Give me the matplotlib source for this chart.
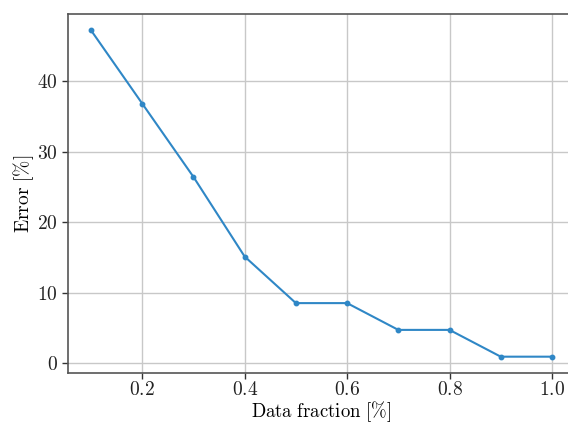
import matplotlib
matplotlib.use("Agg")
import matplotlib.pyplot as plt

# Error versus fraction of training data used
data_fraction = [0.1, 0.2, 0.3, 0.4, 0.5, 0.6, 0.7, 0.8, 0.9, 1.0]
error_pct = [47.2, 36.8, 26.4, 15.1, 8.5, 8.5, 4.7, 4.7, 0.9, 0.9]

plt.rcParams["mathtext.fontset"] = "cm"
plt.rcParams["font.family"] = "serif"
plt.rcParams["font.serif"] = ["cmr10", "DejaVu Serif"]
plt.rcParams["axes.formatter.use_mathtext"] = True
plt.rcParams["font.size"] = 14

fig = plt.figure(figsize=(5.68, 4.23), dpi=100)
ax = fig.add_axes([68 / 568, 50 / 423, 507 / 568, 359 / 423])

ax.plot(data_fraction, error_pct, color="#2f87c6", lw=1.5,
        marker="o", markersize=3.2)

ax.set_xlabel(r"$\mathrm{Data\ fraction\ [\%]}$", labelpad=0, fontsize=13.5)
ax.set_ylabel(r"$\mathrm{Error\ [\%]}$", labelpad=1)

ax.set_xticks([0.2, 0.4, 0.6, 0.8, 1.0])
ax.set_xticklabels([r"$0.2$", r"$0.4$", r"$0.6$", r"$0.8$", r"$1.0$"])
ax.set_yticks([0, 10, 20, 30, 40])
ax.set_yticklabels([r"$0$", r"$10$", r"$20$", r"$30$", r"$40$"])

ax.grid(True, color="#c8c8c8", lw=1.0)
ax.set_axisbelow(True)
for s in ax.spines.values():
    s.set_color("#555555")
    s.set_linewidth(1.2)
ax.tick_params(colors="#333333", labelcolor="#222222", length=4, width=1)
ax.tick_params(axis="x", pad=2)

fig.savefig("out.png", dpi=100)
